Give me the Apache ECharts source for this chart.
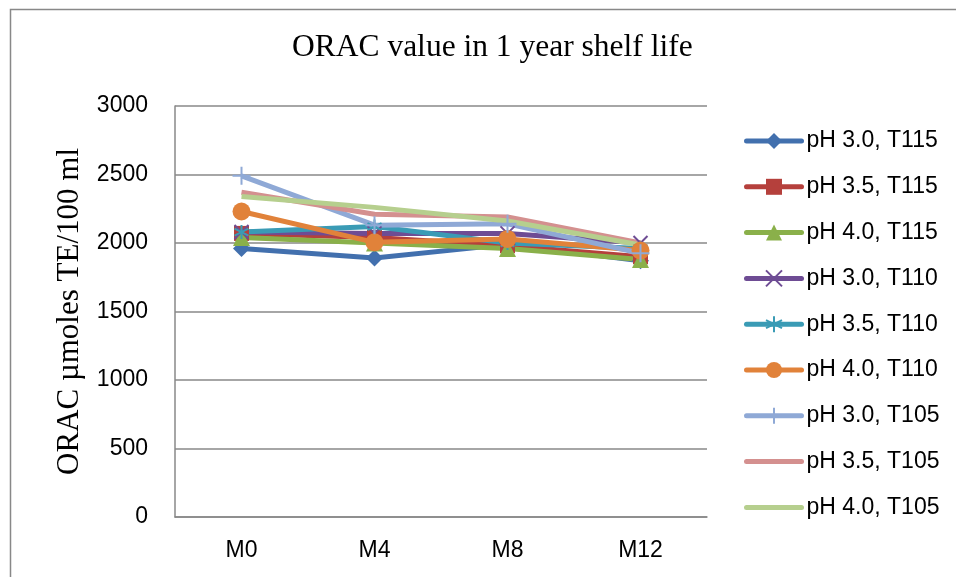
<!DOCTYPE html>
<html>
<head>
<meta charset="utf-8">
<script src="https://cdn.jsdelivr.net/npm/echarts@6/dist/echarts.min.js"></script>
<style>html,body{margin:0;padding:0;background:#fff;}#c{width:956px;height:577px;}</style>
</head>
<body>
<div id="c"></div>
<script>
const categories = ['M0', 'M4', 'M8', 'M12'];
const seriesNames = ['pH 3.0, T115', 'pH 3.5, T115', 'pH 4.0, T115', 'pH 3.0, T110', 'pH 3.5, T110', 'pH 4.0, T110', 'pH 3.0, T105', 'pH 3.5, T105', 'pH 4.0, T105'];
const ph30T115 = [1960, 1890, 1990, 1870];
const ph35T115 = [2070, 2040, 1980, 1900];
const ph40T115 = [2040, 2000, 1960, 1880];
const ph30T110 = [2080, 2070, 2070, 2000];
const ph35T110 = [2080, 2120, 2000, 1960];
const ph40T110 = [2230, 2005, 2030, 1945];
const ph30T105 = [2490, 2130, 2140, 1925];
const ph35T105 = [2370, 2210, 2190, 2000];
const ph40T105 = [2340, 2260, 2160, 1985];
const yTicks = [0, 500, 1000, 1500, 2000, 2500, 3000];

const seriesData = [ph30T115, ph35T115, ph40T115, ph30T110, ph35T110, ph40T110, ph30T105, ph35T105, ph40T105];
const colors = ['#4270AE', '#B5403C', '#8AB04A', '#6E4C94', '#3A9BB5', '#E1823A', '#8FA9D6', '#D4908F', '#B6CF8E'];
const symbols = [
  'diamond', 'rect', 'triangle',
  'path://M0,0L10,10M10,0L0,10',
  'path://M5,0L5,10M0.7,2.5L9.3,7.5M9.3,2.5L0.7,7.5',
  'circle',
  'path://M5,0L5,10M0,5L10,5',
  'none', 'none'
];
const sizes = [17, 15, 17, 14, 14, 18, 18, 0, 0];
const stroked = [false, false, false, true, true, false, true, false, false];

const chart = echarts.init(document.getElementById('c'), null, {renderer: 'canvas'});
const series = seriesNames.map((name, i) => ({
  name: name,
  type: 'line',
  data: seriesData[i],
  symbol: symbols[i],
  symbolSize: sizes[i],
  showSymbol: symbols[i] !== 'none',
  lineStyle: {width: 5, color: colors[i]},
  itemStyle: stroked[i] ? {color: colors[i], borderColor: colors[i], borderWidth: 2} : {color: colors[i], borderWidth: 0},
  emphasis: {disabled: true},
  animation: false,
  z: 2
}));

const legendData = seriesNames.map((name, i) => {
  const item = {name: name, lineStyle: {width: 5, color: colors[i], cap: 'round'}};
  if (symbols[i] === 'none') {
    item.itemStyle = {opacity: 0};
  } else if (stroked[i]) {
    item.itemStyle = {color: colors[i], borderColor: colors[i], borderWidth: 2};
  } else {
    item.itemStyle = {color: colors[i], borderWidth: 0};
  }
  return item;
});

chart.setOption({
  animation: false,
  graphic: [{
    type: 'rect', left: 8, top: 7, shape: {width: 1000, height: 1000},
    style: {fill: 'none', stroke: '#888', lineWidth: 1.5}, silent: true, z: -1
  }],
  title: {
    text: 'ORAC value in 1 year shelf life',
    left: 287, top: 27,
    textStyle: {fontFamily: 'Liberation Serif', fontWeight: 'normal', fontSize: 31.5, color: '#000'}
  },
  legend: {
    orient: 'vertical', left: 739, top: 123,
    itemWidth: 55, itemHeight: 20, itemGap: 19.8,
    data: legendData,
    textStyle: {fontFamily: 'Liberation Sans', fontSize: 23, color: '#000', lineHeight: 26}
  },
  grid: {left: 175, top: 106, right: 249, bottom: 60, containLabel: false},
  xAxis: {
    type: 'category', data: categories, boundaryGap: true,
    axisLine: {lineStyle: {color: '#888', width: 1.5}},
    axisTick: {show: false},
    axisLabel: {fontFamily: 'Liberation Sans', fontSize: 23, color: '#000', margin: 22}
  },
  yAxis: {
    type: 'value', min: yTicks[0], max: yTicks[yTicks.length - 1], interval: 500,
    name: 'ORAC µmoles TE/100 ml', nameLocation: 'middle', nameGap: 90, nameRotate: 90,
    nameTextStyle: {fontFamily: 'Liberation Serif', fontSize: 31, color: '#000'},
    axisLine: {show: true, lineStyle: {color: '#888', width: 1.5}},
    axisTick: {show: false},
    splitLine: {lineStyle: {color: '#888', width: 1.5}},
    axisLabel: {fontFamily: 'Liberation Sans', fontSize: 23, color: '#000', margin: 27, formatter: v => String(v)}
  },
  series: series
});
</script>
</body>
</html>
